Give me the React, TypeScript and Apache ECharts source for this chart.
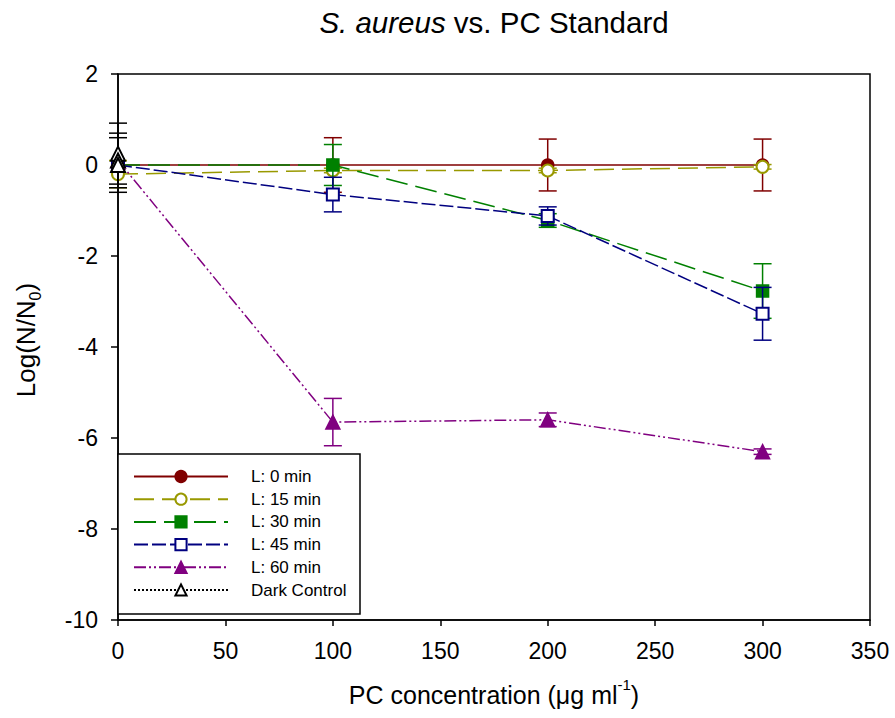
import React, { useEffect, useRef } from "react";
import * as echarts from "echarts";

const concentrations = [0, 100, 200, 300];

const seriesNames = ["L: 0 min", "L: 15 min", "L: 30 min", "L: 45 min", "L: 60 min", "Dark Control"];

const l0Values = [0, 0, 0, 0];
const l0Errors = [0, 0.6, 0.57, 0.57];

const l15Values = [-0.2, -0.12, -0.12, -0.04];
const l15Errors = [0.3, 0.05, 0.05, 0.05];

const l30Values = [0, 0, -1.22, -2.77];
const l30Errors = [0, 0.45, 0.15, 0.6];

const l45Values = [0, -0.65, -1.12, -3.27];
const l45Errors = [0, 0.38, 0.2, 0.58];

const l60Values = [0.1, -5.65, -5.6, -6.3];
const l60Errors = [0, 0.52, 0.15, 0.06];

const darkX = [0, 0, 0];
const darkValues = [0.25, 0.1, 0];
const darkErrors = [0.67, 0.6, 0.6];

const yTicks = { min: -10, max: 2, interval: 2 };
const xTicks = { min: 0, max: 350, interval: 50 };

const FONT = "Liberation Sans, Arial, sans-serif";

export default function App() {
  const ref = useRef<HTMLDivElement>(null);

  useEffect(() => {
    if (!ref.current) return;
    const chart = echarts.init(ref.current, undefined, { renderer: "svg" });

    const colors = ["#800000", "#999900", "#008000", "#000080", "#800080", "#000000"];
    const symbols = ["circle", "emptyCircle", "rect", "emptyRect", "triangle", "emptyTriangle"];
    const dashes: any[] = [
      "solid",
      [20, 8],
      [22, 8],
      [14, 4],
      [12, 3, 2, 3, 2, 3],
      [2, 2],
    ];
    const xs = [concentrations, concentrations, concentrations, concentrations, concentrations, darkX];
    const vals = [l0Values, l15Values, l30Values, l45Values, l60Values, darkValues];
    const errs = [l0Errors, l15Errors, l30Errors, l45Errors, l60Errors, darkErrors];

    const series: any[] = [];
    for (let i = 0; i < seriesNames.length; i++) {
      const color = colors[i];
      series.push({
        type: "custom",
        name: seriesNames[i] + " err",
        z: 2 + i * 2,
        clip: false,
        encode: { x: 0, y: [1, 2] },
        data: xs[i]
          .map((x, j) => [x, vals[i][j] - errs[i][j], vals[i][j] + errs[i][j], errs[i][j]])
          .filter((d) => d[3] > 0),
        renderItem: (params: any, api: any) => {
          const x = api.value(0);
          const top = api.coord([x, api.value(2)]);
          const bot = api.coord([x, api.value(1)]);
          const w = 9;
          const style = { stroke: color, lineWidth: 1.5 };
          return {
            type: "group",
            children: [
              { type: "line", shape: { x1: top[0], y1: top[1], x2: bot[0], y2: bot[1] }, style },
              { type: "line", shape: { x1: top[0] - w, y1: top[1], x2: top[0] + w, y2: top[1] }, style },
              { type: "line", shape: { x1: bot[0] - w, y1: bot[1], x2: bot[0] + w, y2: bot[1] }, style },
            ],
          };
        },
      });
      series.push({
        type: "line",
        name: seriesNames[i],
        z: 3 + i * 2,
        data: xs[i].map((x, j) => [x, vals[i][j]]),
        symbol: symbols[i],
        symbolSize: i === 4 || i === 5 ? 14 : 12,
        showAllSymbol: true,
        clip: false,
        lineStyle: { color, width: 1.5, type: dashes[i] },
        itemStyle: { color, borderColor: color, borderWidth: i === 5 ? 2 : 1.5 },
        emphasis: { disabled: true },
      });
    }

    chart.setOption({
      animation: false,
      textStyle: { fontFamily: FONT },
      grid: {
        left: 118,
        right: 25,
        top: 74,
        bottom: 98,
        show: true,
        borderColor: "#000",
        borderWidth: 1.5,
        backgroundColor: "transparent",
      },
      xAxis: {
        type: "value",
        min: xTicks.min,
        max: xTicks.max,
        interval: xTicks.interval,
        splitLine: { show: false },
        axisLine: { show: true, onZero: false, lineStyle: { color: "#000", width: 1.5 } },
        axisTick: { show: true, inside: false, length: 6, lineStyle: { color: "#000", width: 1.5 } },
        axisLabel: { color: "#000", fontSize: 23, margin: 19, fontFamily: FONT },
      },
      yAxis: {
        type: "value",
        min: yTicks.min,
        max: yTicks.max,
        interval: yTicks.interval,
        splitLine: { show: false },
        axisLine: { show: true, onZero: false, lineStyle: { color: "#000", width: 1.5 } },
        axisTick: { show: true, inside: false, length: 7, lineStyle: { color: "#000", width: 1.5 } },
        axisLabel: { color: "#000", fontSize: 23, margin: 20, fontFamily: FONT },
      },
      legend: {
        data: seriesNames,
        orient: "vertical",
        left: 133,
        top: 468,
        itemWidth: 94,
        itemHeight: 14,
        itemGap: 5.7,
        padding: 0,
        selectedMode: false,
        textStyle: { color: "#000", fontSize: 17, fontFamily: FONT, padding: [0, 0, 0, 18] },
      },
      graphic: [
        {
          type: "rect",
          z: 1,
          shape: { x: 118, y: 454, width: 242, height: 160 },
          style: { fill: "#fff", stroke: "#000", lineWidth: 1.5 },
        },
        {
          type: "text",
          x: 494,
          y: 22,
          style: {
            text: "{i|S. aureus}{n| vs. PC Standard}",
            align: "center",
            verticalAlign: "middle",
            rich: {
              i: { fontSize: 29.5, fontStyle: "italic", fontFamily: FONT, fill: "#000" },
              n: { fontSize: 29.5, fontFamily: FONT, fill: "#000" },
            },
          },
        },
        {
          type: "text",
          x: 494,
          y: 692,
          style: {
            text: "{n|PC concentration (μg ml}{s|-1}{n|)}",
            align: "center",
            verticalAlign: "middle",
            rich: {
              n: { fontSize: 25, fontFamily: FONT, fill: "#000", verticalAlign: "bottom", lineHeight: 30 },
              s: { fontSize: 15, fontFamily: FONT, fill: "#000", verticalAlign: "top", lineHeight: 30 },
            },
          },
        },
        {
          type: "text",
          x: 28,
          y: 340,
          rotation: Math.PI / 2,
          style: {
            text: "{n|Log(N/N}{s|0}{n|)}",
            align: "center",
            verticalAlign: "middle",
            rich: {
              n: { fontSize: 26, fontFamily: FONT, fill: "#000", verticalAlign: "top", lineHeight: 30 },
              s: { fontSize: 16, fontFamily: FONT, fill: "#000", verticalAlign: "bottom", lineHeight: 30 },
            },
          },
        },
      ],
      series,
    });

    return () => chart.dispose();
  }, []);

  return (
    <div
      ref={ref}
      style={{ position: "fixed", left: 0, top: 0, width: 895, height: 718, background: "#fff" }}
    />
  );
}
